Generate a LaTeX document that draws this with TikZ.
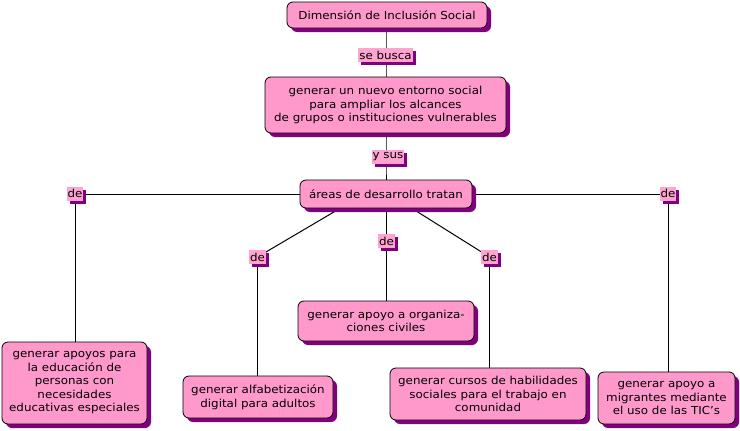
\documentclass[tikz,border=0pt]{standalone}
\usepackage{fontspec}
\setmainfont{DejaVu Sans}[FakeStretch=1.08]
\usetikzlibrary{shadows,backgrounds}
\definecolor{boxpink}{HTML}{FF99CC}
\definecolor{lblpink}{HTML}{FFA3D1}
\definecolor{shadowpurple}{HTML}{800080}
\tikzset{
  concept/.style={draw=black, line width=0.8pt, fill=boxpink, rounded corners=6pt,
    align=center, inner sep=2pt, font=\fontsize{11}{13.5}\selectfont,
    drop shadow={shadow xshift=4pt, shadow yshift=-4pt, fill=shadowpurple, opacity=1}},
  linklbl/.style={fill=lblpink, inner sep=1pt, font=\fontsize{11}{12}\selectfont,
    minimum height=14pt,
    drop shadow={shadow xshift=3pt, shadow yshift=-3pt, fill=shadowpurple, opacity=1}},
  conn/.style={draw=black, line width=1pt}
}
\begin{document}
\begin{tikzpicture}[x=1pt,y=-1pt]
\useasboundingbox (0,0) rectangle (740,431);
% concepts
\node[concept, minimum width=200pt, minimum height=26pt] (top) at (387,15) {Dimensión de Inclusión Social};
\node[concept, minimum width=241pt, minimum height=56pt] (gen) at (385.5,105) {generar un nuevo entorno social\\para ampliar los alcances\\de grupos o instituciones vulnerables};
\node[concept, minimum width=172pt, minimum height=28pt] (areas) at (386,194) {áreas de desarrollo tratan};
\node[concept, minimum width=145pt, minimum height=82pt] (edu) at (74.5,383) {generar apoyos para\\la educación de\\personas con\\necesidades\\educativas especiales};
\node[concept, minimum width=150pt, minimum height=42pt] (alfa) at (258,397) {generar alfabetización\\digital para adultos};
\node[concept, minimum width=176pt, minimum height=40pt] (org) at (386,321) {generar apoyo a organiza-\\ciones civiles};
\node[concept, minimum width=196pt, minimum height=52pt] (cur) at (488,394) {generar cursos de habilidades\\sociales para el trabajo en\\comunidad};
\node[concept, minimum width=137pt, minimum height=52pt] (mig) at (666.5,398) {generar apoyo a\\migrantes mediante\\el uso de las TIC's};
% link labels
\node[linklbl] (l1) at (385.5,55) {se busca};
\node[linklbl] (l2) at (388,156.5) {y sus};
\node[linklbl] (dL) at (75,193.5) {de};
\node[linklbl] (dR) at (668,193.5) {de};
\node[linklbl] (d1) at (257.5,257) {de};
\node[linklbl] (d2) at (386.5,241) {de};
\node[linklbl] (d3) at (489.5,257) {de};
% connectors
\begin{scope}[on background layer]
\coordinate (vx) at (386,0);
\draw[conn] (vx |- top.center) -- (vx |- l1.center) -- (vx |- gen.center);
\draw[conn] (vx |- gen.center) -- (vx |- l2.center) -- (vx |- areas.center);
\draw[conn] (dL.center |- areas.center) -- (areas.center);
\draw[conn] (areas.center) -- (dR.center |- areas.center);
\draw[conn] (dL.center |- areas.center) -- (dL.center |- edu.center);
\draw[conn] (dR.center |- areas.center) -- (dR.center |- mig.center);
\draw[conn] ([xshift=-46pt]areas.south) -- (d1.center);
\draw[conn] (d1.center) -- (d1.center |- alfa.center);
\draw[conn] (vx |- areas.center) -- (vx |- org.center);
\draw[conn] ([xshift=26pt]areas.south) -- (d3.center);
\draw[conn] (d3.center) -- (d3.center |- cur.center);
\end{scope}
\end{tikzpicture}
\end{document}
